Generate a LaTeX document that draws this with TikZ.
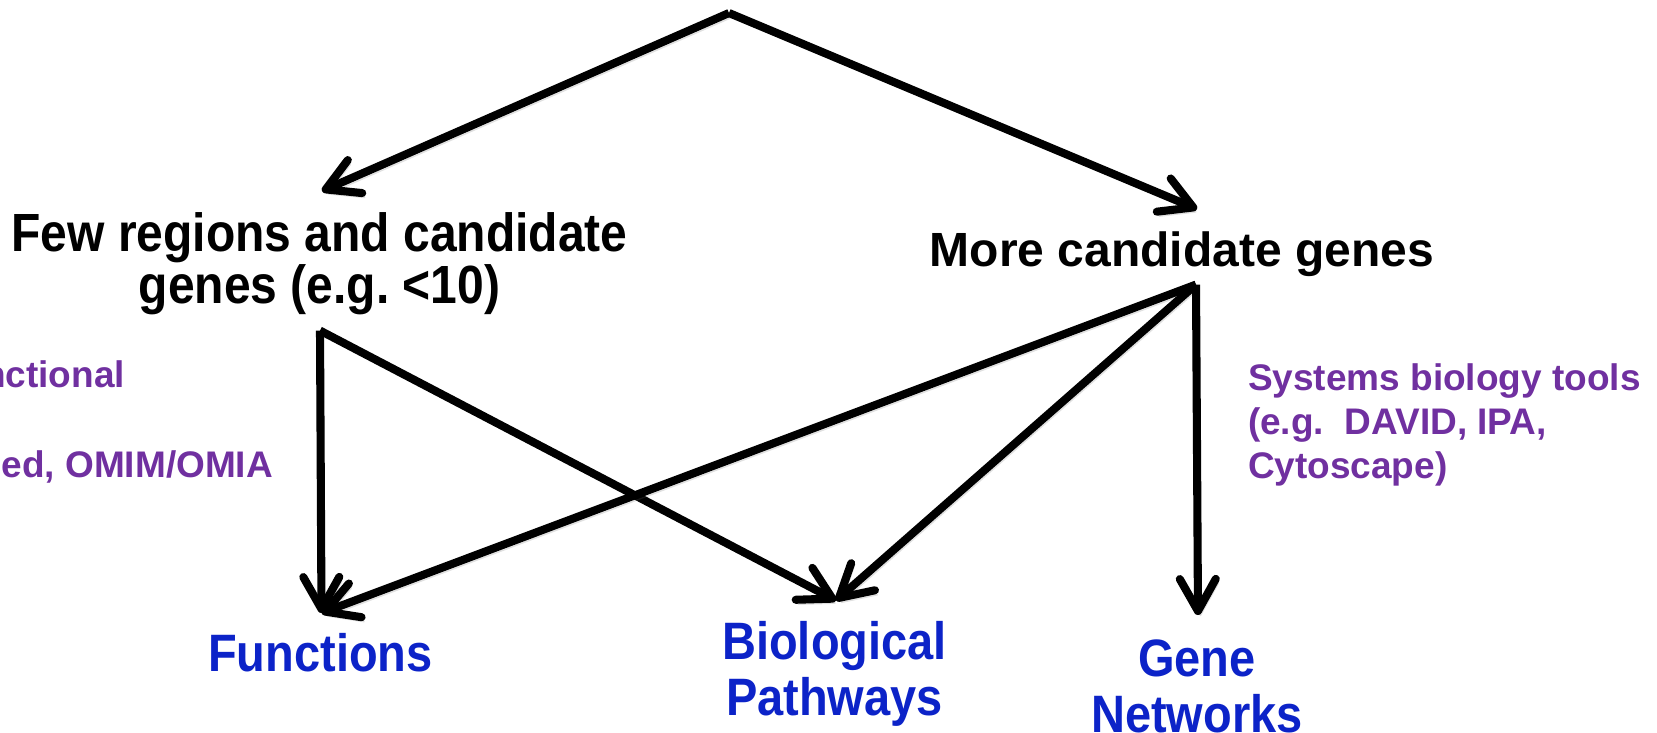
\documentclass[tikz,border=0pt]{standalone}
\usepackage{fontspec}
\setmainfont{Liberation Sans}
\usepackage{graphicx}
\usepackage{tikz}
\usetikzlibrary{arrows.meta}

\definecolor{toolpurple}{RGB}{112,48,160}
\definecolor{resblue}{RGB}{12,35,200}

\newcommand{\tallline}[1]{\scalebox{1}[1.12]{#1}}

\begin{document}
\frenchspacing
\begin{tikzpicture}
  \tikzstyle{heading}=[inner sep=0pt, outer sep=0pt, font=\bfseries\fontsize{13.66}{14.65}\selectfont, align=center, anchor=north]
  \tikzstyle{tool}=[inner sep=0pt, outer sep=0pt, text=toolpurple, font=\bfseries\fontsize{10.53}{12.52}\selectfont]
  \tikzstyle{result}=[inner sep=0pt, outer sep=0pt, text=resblue, font=\bfseries\fontsize{13.37}{15.93}\selectfont, align=center, anchor=north]
  \tikzstyle{arr}=[line width=2.3pt, -{Straight Barb[length=0.32cm, width=0.36cm, round]},
    preaction={draw=black!60, opacity=0.2, transform canvas={shift={(0.025,-0.045)}}}]

  \useasboundingbox (0,0) rectangle (16.57,-7.32);
  \clip (0,0) rectangle (16.57,-7.32);

  % top of the tree
  \coordinate (top) at (7.29,-0.13);

  % the two cases
  \node (few) at (3.195,-2.13) [heading] {\tallline{Few regions and candidate}\\\tallline{genes (e.g. <10)}};
  \node (more) at (11.82,-2.316) [heading] {More candidate genes};

  % tools
  \node (annot1) at (1.25,-3.87) [tool, anchor=base east] {nctional};
  \node (annot2) at (2.73,-4.77) [tool, anchor=base east] {ed, OMIM/OMIA};
  \node (sysbio) at (12.48,-3.635) [tool, anchor=north west, align=left] {Systems biology tools\\(e.g.\ \ DAVID, IPA,\\Cytoscape)};

  % results
  \node (func) at (3.205,-6.33) [result] {\tallline{Functions}};
  \node (bio) at (8.345,-6.21) [result] {\tallline{Biological}\\\tallline{Pathways}};
  \node (gene) at (11.97,-6.40) [result] {\tallline{Gene}\\\tallline{Networks}};

  % arrow ends
  \coordinate (fewin) at ([xshift=0.025cm, yshift=0.22cm]few.north);
  \coordinate (fewout) at ([xshift=0.005cm, yshift=-0.157cm]few.south);
  \coordinate (morein) at ([xshift=0.15cm, yshift=0.226cm]more.north);
  \coordinate (moreout) at ([xshift=0.14cm, yshift=-0.08cm]more.south);
  \coordinate (funcin) at ([xshift=0.01cm, yshift=0.2cm]func.north);
  \coordinate (bioin) at ([xshift=0.015cm, yshift=0.205cm]bio.north);
  \coordinate (genein) at ([xshift=0.01cm, yshift=0.25cm]gene.north);

  % arrows
  \draw[arr] (top) -- (fewin);
  \draw[arr] (top) -- (morein);
  \draw[arr] (fewout) -- (funcin);
  \draw[arr] (fewout) -- (bioin);
  \draw[arr] (moreout) -- (funcin);
  \draw[arr] (moreout) -- (bioin);
  \draw[arr] (moreout) -- (genein);
\end{tikzpicture}
\end{document}
